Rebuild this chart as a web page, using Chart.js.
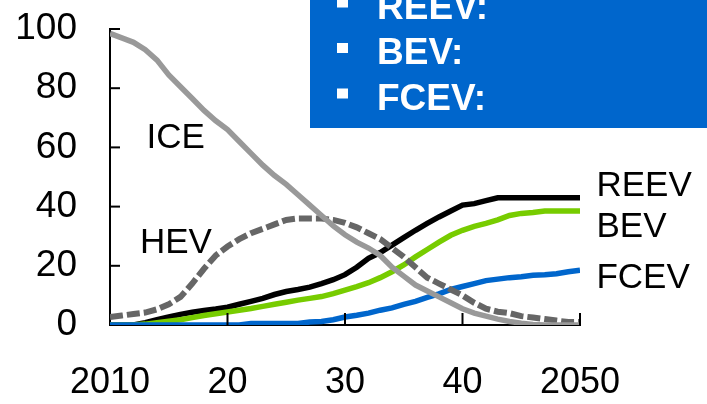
<!DOCTYPE html>
<html>
<head>
<meta charset="utf-8">
<script src="https://cdn.jsdelivr.net/npm/chart.js@4.4.1/dist/chart.umd.min.js"></script>
<style>
  html, body { margin: 0; padding: 0; background: #fff; }
  #wrap { width: 707px; height: 404px; }
</style>
</head>
<body>
<div id="wrap"><canvas id="share-chart"></canvas></div>
<script>
// market share by powertrain, % of new sales
const years = Array.from({ length: 41 }, (_, i) => 2010 + i);

const ice = [98.5, 97, 95.5, 93, 89.5, 84.5, 80.5, 76.5, 72.5, 69,
  66, 62, 58, 54, 50.5, 47.5, 44, 40.5, 37, 33.5,
  30.5, 28, 26, 23.5, 19.5, 16.5, 13.5, 11.5, 9.5, 7.5,
  5.5, 4, 3, 2, 1.2, 0.6, 0.2, 0, 0, 0, 0];
const hev = [2.7, 3.2, 3.7, 4.2, 5.3, 7, 9.5, 14, 19, 23.5,
  26.5, 29, 31, 32.5, 34, 35.5, 36, 36, 36, 35.5,
  34.5, 33, 31, 29, 26, 23, 19.5, 16, 14, 12,
  10, 7.5, 5.5, 4.5, 4, 3, 2.5, 2, 1.5, 1, 1];
const reev = [0, 0, 0, 0.8, 1.8, 2.7, 3.6, 4.3, 4.9, 5.4,
  6, 7, 8, 9, 10.3, 11.3, 12, 12.8, 14, 15.3,
  17, 19.5, 22.5, 24.5, 27, 29.5, 32, 34.3, 36.5, 38.5,
  40.5, 41, 42, 43, 43, 43, 43, 43, 43, 43, 43];
const bev = [0, 0, 0, 0.3, 0.8, 1.3, 1.8, 2.5, 3.2, 3.8,
  4.4, 5, 5.6, 6.3, 7, 7.7, 8.4, 9, 9.6, 10.6,
  11.8, 13, 14.3, 16, 18, 20.3, 23, 25.5, 28, 30.3,
  32, 33.3, 34.3, 35.5, 37, 37.7, 38, 38.5, 38.5, 38.5, 38.5];
const fcev = [0, 0, 0, 0, 0, 0, 0, 0, 0, 0,
  0, 0, 0.5, 0.5, 0.5, 0.5, 0.5, 1, 1.2, 1.8,
  2.7, 3.3, 4, 5, 5.8, 7, 8, 9.3, 10.5, 12,
  13, 14, 15, 15.5, 16, 16.3, 16.8, 17, 17.3, 18, 18.5];

const xTicks = [2010, 2020, 2030, 2040, 2050];
const xTickLabels = ["2010", "20", "30", "40", "2050"];
const yTicks = [0, 20, 40, 60, 80, 100];

// series names placed next to their curves (year, share)
const seriesNames = ["ICE", "HEV", "REEV", "BEV", "FCEV"];
const nameX = [2013.1, 2012.55, 2051.4, 2051.4, 2051.4];
const nameY = [63.2, 27.6, 47, 33, 15.8];

const boxItems = ["REEV:", "BEV:", "FCEV:"];

const FONT = '"Liberation Sans", Arial, Helvetica, sans-serif';
Chart.defaults.font.family = FONT;
Chart.defaults.color = "#000";

const pts = (arr) => arr.map((v, i) => ({ x: years[i], y: v }));

const decor = {
  id: "decor",
  afterDatasetsDraw(chart) {
    const { ctx, scales: { x, y } } = chart;
    ctx.save();

    // inward tick marks
    ctx.strokeStyle = "#000";
    ctx.lineWidth = 2;
    yTicks.forEach((v) => {
      if (v === 0) return;
      const py = y.getPixelForValue(v);
      ctx.beginPath();
      ctx.moveTo(x.left, py);
      ctx.lineTo(x.left + 10, py);
      ctx.stroke();
    });
    xTicks.forEach((v) => {
      if (v === xTicks[0]) return;
      const px = x.getPixelForValue(v);
      ctx.beginPath();
      ctx.moveTo(px, y.bottom);
      ctx.lineTo(px, y.bottom - 12);
      ctx.stroke();
    });

    // curve names
    ctx.fillStyle = "#000";
    ctx.font = "35px " + FONT;
    ctx.textAlign = "left";
    ctx.textBaseline = "middle";
    seriesNames.forEach((name, i) => {
      ctx.fillText(name, x.getPixelForValue(nameX[i]), y.getPixelForValue(nameY[i]));
    });

    // blue callout box, top right
    ctx.fillStyle = "#0066cc";
    ctx.fillRect(310, 0, chart.width - 310, 128);
    ctx.fillStyle = "#fff";
    ctx.font = "bold 37px " + FONT;
    ctx.textBaseline = "alphabetic";
    boxItems.forEach((t, i) => {
      const base = 18.5 + i * 45.5;
      ctx.fillRect(337, base - 21, 11, 10);
      ctx.fillText(t, 377, base);
    });

    ctx.restore();
  },
};

const line = (data, color, extra) => Object.assign({
  data: pts(data),
  borderColor: color,
  borderWidth: 5.5,
  pointRadius: 0,
  tension: 0,
  fill: false,
}, extra || {});

new Chart(document.getElementById("share-chart"), {
  type: "line",
  data: {
    datasets: [
      line(ice, "#999999"),
      line(hev, "#666666", { borderDash: [13, 4], borderWidth: 6 }),
      line(fcev, "#0066cc"),
      line(bev, "#77cc00"),
      line(reev, "#000000"),
    ],
  },
  options: {
    responsive: true,
    maintainAspectRatio: false,
    animation: false,
    layout: { padding: { top: 29, right: 127, left: 0, bottom: 0 } },
    plugins: { legend: { display: false }, tooltip: { enabled: false } },
    scales: {
      x: {
        type: "linear",
        min: 2010,
        max: 2050,
        afterFit: (s) => {
          s.height = 79;
          s.paddingLeft = 0;
          s.paddingRight = 0;
        },
        afterBuildTicks: (s) => { s.ticks = xTicks.map((v) => ({ value: v })); },
        grid: { display: false },
        border: { display: true, color: "#000", width: 2 },
        ticks: {
          font: { size: 36 },
          padding: 28,
          maxRotation: 0,
          autoSkip: false,
          callback: (v) => xTickLabels[xTicks.indexOf(v)],
        },
      },
      y: {
        min: 0,
        max: 100,
        afterFit: (s) => {
          s.width = 110;
          s.paddingTop = 0;
          s.paddingBottom = 0;
        },
        afterBuildTicks: (s) => { s.ticks = yTicks.map((v) => ({ value: v })); },
        grid: { display: false },
        border: { display: true, color: "#000", width: 2 },
        ticks: { font: { size: 37 }, padding: 25 },
      },
    },
  },
  plugins: [decor],
});
</script>
</body>
</html>
